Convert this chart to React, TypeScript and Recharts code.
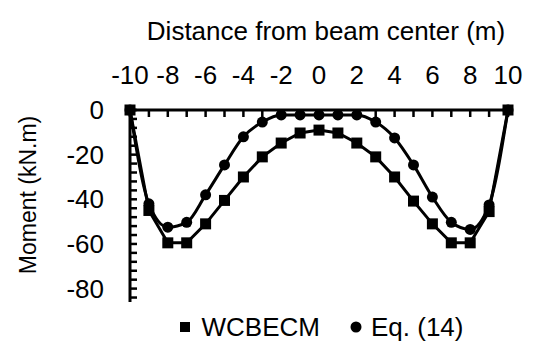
import { LineChart, Line, XAxis, YAxis, Legend } from "recharts";

// distance from beam centre (m)
const distance = [-10, -9, -8, -7, -6, -5, -4, -3, -2, -1, 0, 1, 2, 3, 4, 5, 6, 7, 8, 9, 10];
// moment (kN.m)
const wcbecm = [0, -45, -59.5, -59.5, -51, -40.5, -30, -21, -14.8, -10.3, -9, -10.3, -14.8, -21, -30, -40.8, -51, -59.5, -59.5, -45.5, 0];
const eq14 = [0, -42, -52.5, -50.3, -38, -24.6, -12, -5.4, -2.2, -2.2, -2.2, -2.2, -2.2, -5.4, -12.5, -24.6, -39, -50.3, -53.5, -42.5, 0];

const xTicks = [-10, -9, -8, -7, -6, -5, -4, -3, -2, -1, 0, 1, 2, 3, 4, 5, 6, 7, 8, 9, 10];
const xLabels = [-10, -8, -6, -4, -2, 0, 2, 4, 6, 8, 10];
const yTicks = [0, -4, -8, -12, -16, -20, -24, -28, -32, -36, -40, -44, -48, -52, -56, -60, -64, -68, -72, -76, -80, -84];
const yLabels = [0, -20, -40, -60, -80];

const data = distance.map((x, i) => ({ x, wcbecm: wcbecm[i], eq14: eq14[i] }));

const FONT = '"Liberation Sans", Arial, sans-serif';

const TopTick = (props: any) => {
  const { x, y, payload } = props;
  const v = payload.value;
  return (
    <g>
      <line x1={x} x2={x} y1={y} y2={y + 7} stroke="#000" strokeWidth={2.5} />
      {xLabels.includes(v) && (
        <text x={x} y={y - 26} textAnchor="middle" fontSize={26} fontFamily={FONT} fill="#000">
          {v}
        </text>
      )}
    </g>
  );
};

const LeftTick = (props: any) => {
  const { x, y, payload } = props;
  const v = payload.value;
  return (
    <g>
      <line x1={x} x2={x + 7} y1={y} y2={y} stroke="#000" strokeWidth={2.5} />
      {yLabels.includes(v) && (
        <text x={x - 26} y={y + 9} textAnchor="end" fontSize={26} fontFamily={FONT} fill="#000">
          {v}
        </text>
      )}
    </g>
  );
};

const SquareDot = (props: any) => {
  const { cx, cy, index } = props;
  return <rect key={"sq" + index} x={cx - 5.5} y={cy - 5.5} width={11} height={11} fill="#000" />;
};

const LegendContent = () => (
  <div
    style={{
      display: "flex",
      justifyContent: "center",
      alignItems: "center",
      height: 40,
      paddingTop: 10,
      paddingLeft: 134,
      boxSizing: "border-box",
      fontFamily: FONT,
      fontSize: 26,
      color: "#000",
    }}
  >
    <svg width={12} height={12}>
      <rect x={1} y={1} width={10} height={10} fill="#000" />
    </svg>
    <span style={{ marginLeft: 11, marginRight: 30 }}>WCBECM</span>
    <svg width={12} height={12}>
      <circle cx={6} cy={6} r={5.5} fill="#000" />
    </svg>
    <span style={{ marginLeft: 9 }}>Eq. (14)</span>
  </div>
);

export default function App() {
  return (
    <div style={{ position: "absolute", left: 0, top: 0, background: "#fff" }}>
      <LineChart width={535} height={346} data={data} margin={{ top: 10, right: 27, bottom: 4, left: 0 }}>
        <XAxis
          dataKey="x"
          type="number"
          orientation="top"
          domain={[-10, 10]}
          ticks={xTicks}
          interval={0}
          height={100}
          tickSize={0}
          tickMargin={0}
          tickLine={false}
          tick={<TopTick />}
          axisLine={{ stroke: "#000", strokeWidth: 3 }}
          label={{
            content: () => (
              <text x={326} y={40} textAnchor="middle" fontSize={26} fontFamily={FONT} fill="#000">
                Distance from beam center (m)
              </text>
            ),
          }}
        />
        <YAxis
          type="number"
          domain={[-86, 0]}
          ticks={yTicks}
          interval={0}
          width={130}
          tickSize={0}
          tickMargin={0}
          tickLine={false}
          tick={<LeftTick />}
          axisLine={{ stroke: "#000", strokeWidth: 3 }}
          label={{
            content: () => (
              <text
                transform="translate(36,195) rotate(-90)"
                textAnchor="middle"
                fontSize={23}
                fontFamily={FONT}
                fill="#000"
              >
                Moment (kN.m)
              </text>
            ),
          }}
        />
        <Legend verticalAlign="bottom" content={<LegendContent />} />
        <Line
          type="linear"
          dataKey="wcbecm"
          name="WCBECM"
          stroke="#000"
          strokeWidth={3}
          dot={<SquareDot />}
          isAnimationActive={false}
        />
        <Line
          type="monotone"
          dataKey="eq14"
          name="Eq. (14)"
          stroke="#000"
          strokeWidth={3}
          dot={{ r: 5.5, fill: "#000", stroke: "#000", strokeWidth: 0 }}
          isAnimationActive={false}
        />
      </LineChart>
    </div>
  );
}
